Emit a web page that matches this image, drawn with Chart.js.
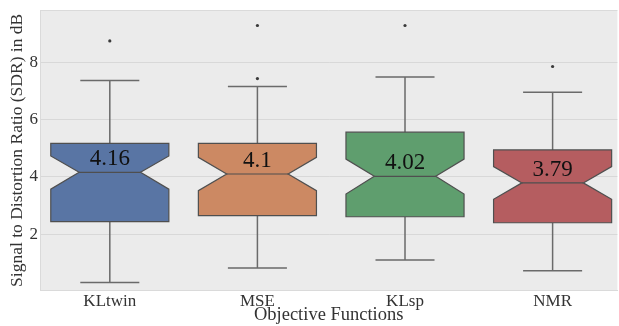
<!DOCTYPE html>
<html>
<head>
<meta charset="utf-8">
<script src="https://cdn.jsdelivr.net/npm/chart.js@4"></script>
<style>
  html, body { margin: 0; padding: 0; background: #fff; overflow: hidden; }
  #wrap { width: 619px; height: 326px; }
</style>
</head>
<body>
<div id="wrap"><canvas id="c"></canvas></div>
<script>
// SDR per objective function (dB): box statistics
const categories  = ['KLtwin', 'MSE', 'KLsp', 'NMR'];
const medians     = [4.16, 4.1, 4.02, 3.79];
const q1          = [2.44, 2.65, 2.61, 2.40];
const q3          = [5.17, 5.17, 5.56, 4.94];
const notchLow    = [3.57, 3.52, 3.40, 3.22];
const notchHigh   = [4.73, 4.68, 4.62, 4.36];
const whiskerLow  = [0.32, 0.82, 1.10, 0.73];
const whiskerHigh = [7.36, 7.15, 7.48, 6.95];
const outliers    = [[8.74], [7.43, 9.28], [9.28], [7.85]];
const yTicks      = [2, 4, 6, 8];

const boxColors = ['#5975A4', '#CC8963', '#5F9E6E', '#B55D60'];
const FONT = '"Liberation Serif", "Times New Roman", serif';

const outlierPoints = [];
outliers.forEach((arr, i) => arr.forEach(v => outlierPoints.push({ x: i, y: v })));

const boxWidth = 0.8;
const notchRatio = 0.52;

const noPadding = s => { s.paddingLeft = 0; s.paddingRight = 0; s.paddingTop = 0; s.paddingBottom = 0; };

const boxPlugin = {
  id: 'notchedBoxes',
  beforeDraw(chart) {
    const { ctx, chartArea: a } = chart;
    ctx.save();
    ctx.fillStyle = '#EBEBEB';
    ctx.fillRect(a.left, a.top, a.right - a.left, a.bottom - a.top);
    ctx.strokeStyle = '#DADADA';
    ctx.lineWidth = 1;
    ctx.beginPath();
    ctx.moveTo(a.left, a.top + 0.5);
    ctx.lineTo(a.right, a.top + 0.5);
    ctx.stroke();
    ctx.restore();
  },
  beforeDatasetsDraw(chart) {
    const { ctx } = chart;
    const xs = chart.scales.x, ys = chart.scales.y;
    ctx.save();
    categories.forEach((c, i) => {
      const cx = xs.getPixelForValue(i);
      const half = (xs.getPixelForValue(i + boxWidth / 2) - xs.getPixelForValue(i - boxWidth / 2)) / 2;
      const capHalf = half / 2;
      const inner = half * notchRatio;
      const yQ1 = ys.getPixelForValue(q1[i]);
      const yQ3 = ys.getPixelForValue(q3[i]);
      const yMed = ys.getPixelForValue(medians[i]);
      const yNL = ys.getPixelForValue(notchLow[i]);
      const yNH = ys.getPixelForValue(notchHigh[i]);
      const yWL = ys.getPixelForValue(whiskerLow[i]);
      const yWH = ys.getPixelForValue(whiskerHigh[i]);

      // whiskers and caps
      ctx.strokeStyle = '#6A6A6A';
      ctx.lineWidth = 1.5;
      ctx.beginPath();
      ctx.moveTo(cx, yQ3); ctx.lineTo(cx, yWH);
      ctx.moveTo(cx - capHalf, yWH); ctx.lineTo(cx + capHalf, yWH);
      ctx.moveTo(cx, yQ1); ctx.lineTo(cx, yWL);
      ctx.moveTo(cx - capHalf, yWL); ctx.lineTo(cx + capHalf, yWL);
      ctx.stroke();

      // notched box
      ctx.beginPath();
      ctx.moveTo(cx - half, yQ1);
      ctx.lineTo(cx + half, yQ1);
      ctx.lineTo(cx + half, yNL);
      ctx.lineTo(cx + inner, yMed);
      ctx.lineTo(cx + half, yNH);
      ctx.lineTo(cx + half, yQ3);
      ctx.lineTo(cx - half, yQ3);
      ctx.lineTo(cx - half, yNH);
      ctx.lineTo(cx - inner, yMed);
      ctx.lineTo(cx - half, yNL);
      ctx.closePath();
      ctx.fillStyle = boxColors[i];
      ctx.fill();
      ctx.strokeStyle = '#4F4F4F';
      ctx.lineWidth = 1.2;
      ctx.stroke();

      // median line
      ctx.beginPath();
      ctx.moveTo(cx - inner, yMed);
      ctx.lineTo(cx + inner, yMed);
      ctx.stroke();

      // median value label
      ctx.fillStyle = '#111111';
      ctx.font = '23px ' + FONT;
      ctx.textAlign = 'center';
      ctx.textBaseline = 'alphabetic';
      ctx.fillText(String(medians[i]), cx, yMed - 7);
    });
    ctx.restore();
  }
};

new Chart(document.getElementById('c'), {
  type: 'scatter',
  data: {
    datasets: [{
      data: outlierPoints,
      pointRadius: 1.6,
      pointBackgroundColor: '#3A3A3A',
      pointBorderWidth: 0,
      pointHoverRadius: 1.6
    }]
  },
  options: {
    responsive: true,
    maintainAspectRatio: false,
    animation: false,
    events: [],
    layout: { padding: { top: 10, right: -5, left: 0, bottom: 0 } },
    plugins: { legend: { display: false }, tooltip: { enabled: false } },
    scales: {
      x: {
        type: 'linear',
        min: -0.473,
        max: 3.439,
        afterBuildTicks: s => { s.ticks = categories.map((c, i) => ({ value: i })); },
        afterFit: s => { s.height = 35.3; noPadding(s); },
        ticks: {
          callback: v => categories[v],
          font: { family: FONT, size: 17 },
          color: '#333333',
          padding: 1,
          maxRotation: 0,
          autoSkip: false
        },
        grid: { display: false, drawTicks: false },
        border: { display: true, color: '#DADADA', width: 1 },
        title: {
          display: true,
          text: 'Objective Functions',
          font: { family: FONT, size: 18.5 },
          color: '#333333',
          padding: { top: 0, bottom: 0 }
        }
      },
      y: {
        min: 0.03,
        max: 9.82,
        afterBuildTicks: s => { s.ticks = yTicks.map(v => ({ value: v })); },
        afterFit: s => { s.width = 40; noPadding(s); },
        ticks: {
          callback: v => String(v),
          font: { family: FONT, size: 17 },
          color: '#333333',
          padding: 2
        },
        grid: { color: '#D8D8D8', lineWidth: 1, drawTicks: false },
        border: { display: true, color: '#DADADA', width: 1 },
        title: {
          display: true,
          text: 'Signal to Distortion Ratio (SDR) in dB',
          font: { family: FONT, size: 17.5 },
          color: '#333333',
          padding: { top: 7, bottom: 0 }
        }
      }
    }
  },
  plugins: [boxPlugin]
});
</script>
</body>
</html>
